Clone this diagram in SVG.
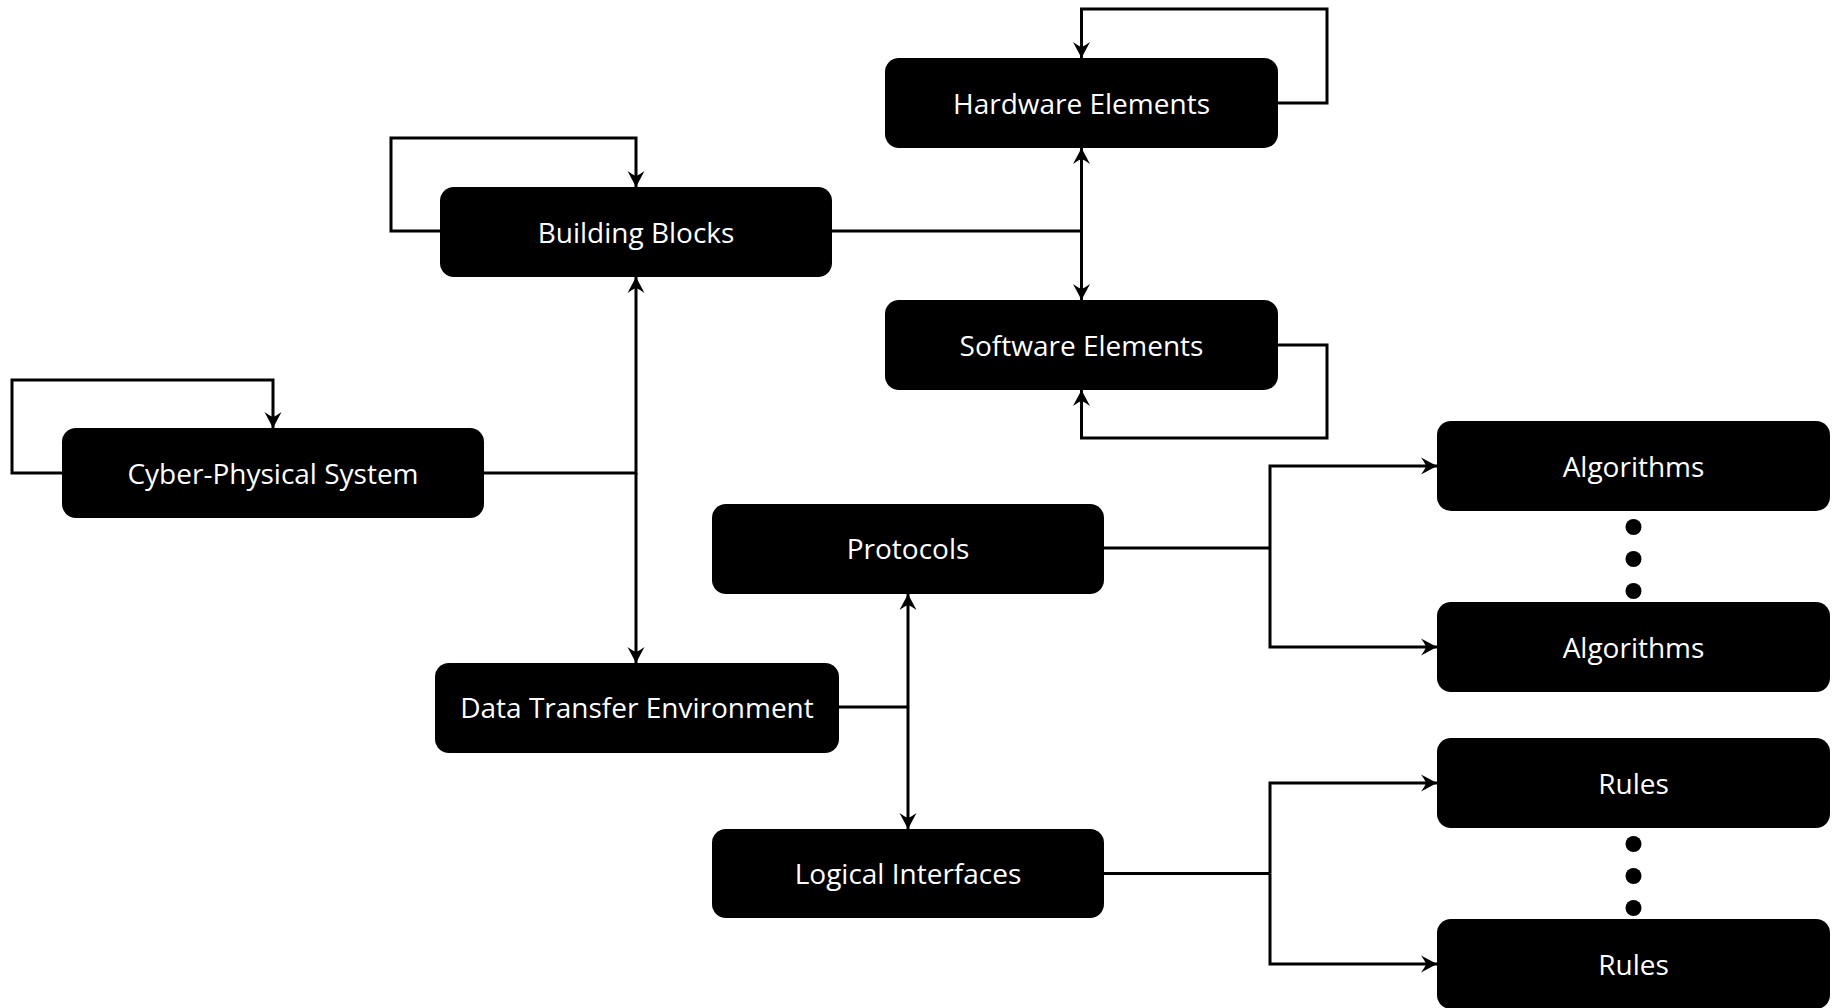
<svg xmlns="http://www.w3.org/2000/svg" width="1839" height="1008" viewBox="0 0 1839 1008">
<style>
.box{fill:#000;}
.lbl{font-family:"Open Sans","Noto Sans","Liberation Sans",sans-serif;font-size:28px;fill:#fff;text-anchor:middle;}
.ln{fill:none;stroke:#000;stroke-width:3;stroke-linejoin:miter;stroke-linecap:butt;}
.arr{marker-end:url(#ah);}
.dot{fill:#000;}
</style>
<defs>
<marker id="ah" markerUnits="userSpaceOnUse" viewBox="-17 -9 18 18" refX="0" refY="0" markerWidth="18" markerHeight="18" orient="auto">
<path d="M0,0 L-16,-8.5 Q-12,-3 -11,0 Q-12,3 -16,8.5 Z" fill="#000"/>
</marker>
</defs>
<rect width="1839" height="1008" fill="#fff"/>
<g id="connectors">
<path class="ln arr" d="M62,473 H12 V380 H273 V428"/>
<path class="ln arr" d="M440,231 H391 V138 H636 V187"/>
<path class="ln arr" d="M484,473 H636 V277"/>
<path class="ln arr" d="M636,473 V663"/>
<path class="ln" d="M832,231 H1081.5"/>
<path class="ln arr" d="M1081.5,231 V148"/>
<path class="ln arr" d="M1081.5,231 V300"/>
<path class="ln arr" d="M1278,103 H1327 V9 H1081.5 V58"/>
<path class="ln arr" d="M1278,345 H1327 V438 H1081.5 V390"/>
<path class="ln" d="M839,707 H908"/>
<path class="ln arr" d="M908,707 V594"/>
<path class="ln arr" d="M908,707 V829"/>
<path class="ln" d="M1104,548 H1270"/>
<path class="ln arr" d="M1270,548 V466 H1437"/>
<path class="ln arr" d="M1270,548 V647 H1437"/>
<path class="ln" d="M1104,873.5 H1270"/>
<path class="ln arr" d="M1270,873.5 V783 H1437"/>
<path class="ln arr" d="M1270,873.5 V964 H1437"/>
</g>
<g id="node-hardware"><rect class="box" x="885" y="58" width="393" height="90" rx="14"/><text class="lbl" x="1081.5" y="114">Hardware Elements</text></g>
<g id="node-software"><rect class="box" x="885" y="300" width="393" height="90" rx="14"/><text class="lbl" x="1081.5" y="356">Software Elements</text></g>
<g id="node-building"><rect class="box" x="440" y="187" width="392" height="90" rx="14"/><text class="lbl" x="636" y="243">Building Blocks</text></g>
<g id="node-cps"><rect class="box" x="62" y="428" width="422" height="90" rx="14"/><text class="lbl" x="273" y="484">Cyber-Physical System</text></g>
<g id="node-protocols"><rect class="box" x="712" y="504" width="392" height="90" rx="14"/><text class="lbl" x="908" y="559">Protocols</text></g>
<g id="node-dte"><rect class="box" x="435" y="663" width="404" height="90" rx="14"/><text class="lbl" x="637" y="718">Data Transfer Environment</text></g>
<g id="node-logical"><rect class="box" x="712" y="829" width="392" height="89" rx="14"/><text class="lbl" x="908" y="884">Logical Interfaces</text></g>
<g id="node-alg1"><rect class="box" x="1437" y="421" width="393" height="90" rx="14"/><text class="lbl" x="1633.5" y="477">Algorithms</text></g>
<g id="node-alg2"><rect class="box" x="1437" y="602" width="393" height="90" rx="14"/><text class="lbl" x="1633.5" y="658">Algorithms</text></g>
<g id="node-rules1"><rect class="box" x="1437" y="738" width="393" height="90" rx="14"/><text class="lbl" x="1633.5" y="794">Rules</text></g>
<g id="node-rules2"><rect class="box" x="1437" y="919" width="393" height="90" rx="14"/><text class="lbl" x="1633.5" y="975">Rules</text></g>
<g id="ellipsis-alg"><circle class="dot" cx="1633.5" cy="527" r="8"/><circle class="dot" cx="1633.5" cy="559" r="8"/><circle class="dot" cx="1633.5" cy="591" r="8"/></g>
<g id="ellipsis-rules"><circle class="dot" cx="1633.5" cy="844" r="8"/><circle class="dot" cx="1633.5" cy="876" r="8"/><circle class="dot" cx="1633.5" cy="908" r="8"/></g>
</svg>
